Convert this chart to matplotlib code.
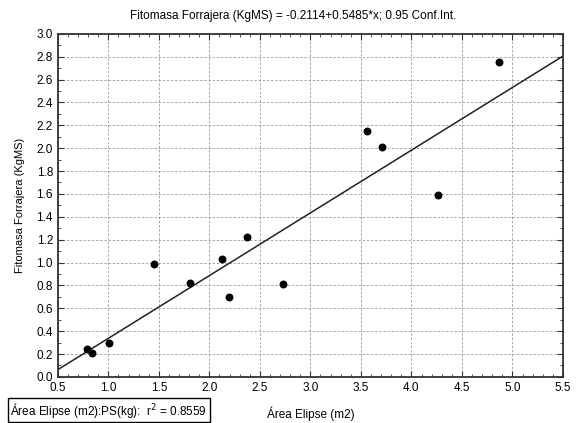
import numpy as np
import matplotlib.pyplot as plt
from matplotlib.ticker import MultipleLocator

plt.rcParams['font.family'] = ['Liberation Sans Narrow', 'Liberation Sans', 'DejaVu Sans']

# data
area = [0.79, 0.84, 1.01, 1.45, 1.81, 2.13, 2.19, 2.37, 2.73, 3.56, 3.71, 4.26, 4.87]
fitomasa = [0.24, 0.21, 0.30, 0.99, 0.82, 1.03, 0.70, 1.22, 0.81, 2.15, 2.01, 1.59, 2.75]

a0 = -0.2114
a1 = 0.5485

fig = plt.figure(figsize=(5.78, 4.23), dpi=100)
ax = fig.add_axes([0.100, 0.109, 0.874, 0.811])

xl = np.array([0.5, 5.5])
ax.plot(xl, a0 + a1 * xl, color='#222222', lw=1.1)
ax.scatter(area, fitomasa, s=22, color='black', zorder=3)

ax.set_xlim(0.5, 5.5)
ax.set_ylim(0.0, 3.0)
ax.xaxis.set_major_locator(MultipleLocator(0.5))
ax.xaxis.set_minor_locator(MultipleLocator(0.1))
ax.yaxis.set_major_locator(MultipleLocator(0.2))
ax.yaxis.set_minor_locator(MultipleLocator(0.1))
ax.xaxis.set_major_formatter(plt.FuncFormatter(lambda v, p: '%.1f' % v))
ax.yaxis.set_major_formatter(plt.FuncFormatter(lambda v, p: '%.1f' % v))
ax.tick_params(which='both', direction='in', top=True, right=True, labelsize=8.5, color='#333333')
ax.tick_params(which='major', length=4)
ax.tick_params(which='minor', length=2)
ax.grid(True, which='major', ls=(0, (3, 2)), color='#9a9a9a', lw=0.6)
for s in ax.spines.values():
    s.set_linewidth(1.3)
    s.set_color('#333333')

fig.text(0.507, 0.962, 'Fitomasa Forrajera (KgMS) = -0.2114+0.5485*x; 0.95 Conf.Int.',
         fontsize=8.5, ha='center', va='center')
ax.set_xlabel('Área Elipse (m2)', fontsize=8.5, labelpad=9)
ax.set_ylabel('Fitomasa Forrajera (KgMS)', fontsize=8, labelpad=8)

fig.text(0.018, 0.008, 'Área Elipse (m2):PS(kg):  r$^2$ = 0.8559', fontsize=8.5,
         ha='left', va='bottom',
         bbox=dict(boxstyle='square,pad=0.22', fc='white', ec='black', lw=1))

fig.savefig('out.png', dpi=100)
